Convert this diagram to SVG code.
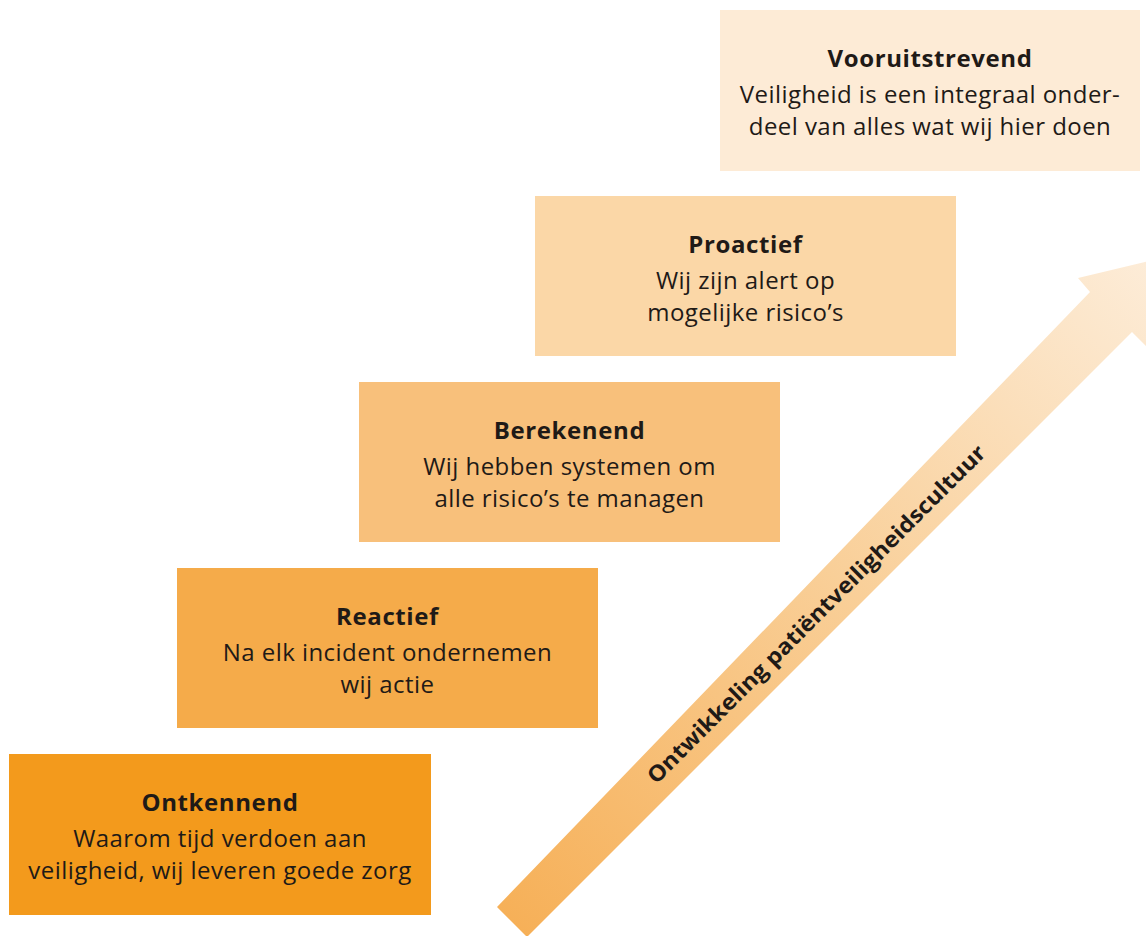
<svg xmlns="http://www.w3.org/2000/svg" width="1146" height="936" viewBox="0 0 1146 936">
<style>
  .t{font-family:"Open Sans","Noto Sans","Liberation Sans",sans-serif;font-size:24px;fill:#1f1a17;text-anchor:middle;letter-spacing:0.45px}
  .b{font-weight:700;letter-spacing:0.6px}
  .al{font-family:"Open Sans","Noto Sans","Liberation Sans",sans-serif;font-size:22px;font-weight:700;fill:#1f1a17;text-anchor:middle}
</style>
<defs>
  <linearGradient id="ag" gradientUnits="userSpaceOnUse" x1="512" y1="922" x2="1182" y2="253">
    <stop offset="0" stop-color="#f6b058"/>
    <stop offset="0.5" stop-color="#f9cf98"/>
    <stop offset="1" stop-color="#fdeedc"/>
  </linearGradient>
</defs>
<rect width="1146" height="936" fill="#ffffff"/>
<g id="connectors">
  <polygon points="497,907 1090,292 1078,278 1182,253 1157,357 1132,332 527,937" fill="url(#ag)"/>
  <text class="al" transform="translate(816,614) rotate(-45)" y="8" textLength="468" lengthAdjust="spacingAndGlyphs">Ontwikkeling patiëntveiligheidscultuur</text>
</g>
<g id="ontkennend">
  <rect x="9" y="754" width="422" height="161" fill="#f39a1c"/>
  <text class="t b" x="220" y="811">Ontkennend</text>
  <text class="t" x="220" y="847">Waarom tijd verdoen aan</text>
  <text class="t" x="220" y="879">veiligheid, wij leveren goede zorg</text>
</g>
<g id="reactief">
  <rect x="177" y="568" width="421" height="160" fill="#f5ab4a"/>
  <text class="t b" x="387.5" y="625">Reactief</text>
  <text class="t" x="387.5" y="661">Na elk incident ondernemen</text>
  <text class="t" x="387.5" y="693">wij actie</text>
</g>
<g id="berekenend">
  <rect x="359" y="382" width="421" height="160" fill="#f8c07b"/>
  <text class="t b" x="569.5" y="439">Berekenend</text>
  <text class="t" x="569.5" y="475">Wij hebben systemen om</text>
  <text class="t" x="569.5" y="507">alle risico’s te managen</text>
</g>
<g id="proactief">
  <rect x="535" y="196" width="421" height="160" fill="#fbd7a7"/>
  <text class="t b" x="745.5" y="253">Proactief</text>
  <text class="t" x="745.5" y="289">Wij zijn alert op</text>
  <text class="t" x="745.5" y="321">mogelijke risico’s</text>
</g>
<g id="vooruitstrevend">
  <rect x="720" y="10" width="420" height="161" fill="#fdebd6"/>
  <text class="t b" x="930" y="67">Vooruitstrevend</text>
  <text class="t" x="930" y="103">Veiligheid is een integraal onder-</text>
  <text class="t" x="930" y="135">deel van alles wat wij hier doen</text>
</g>
</svg>
